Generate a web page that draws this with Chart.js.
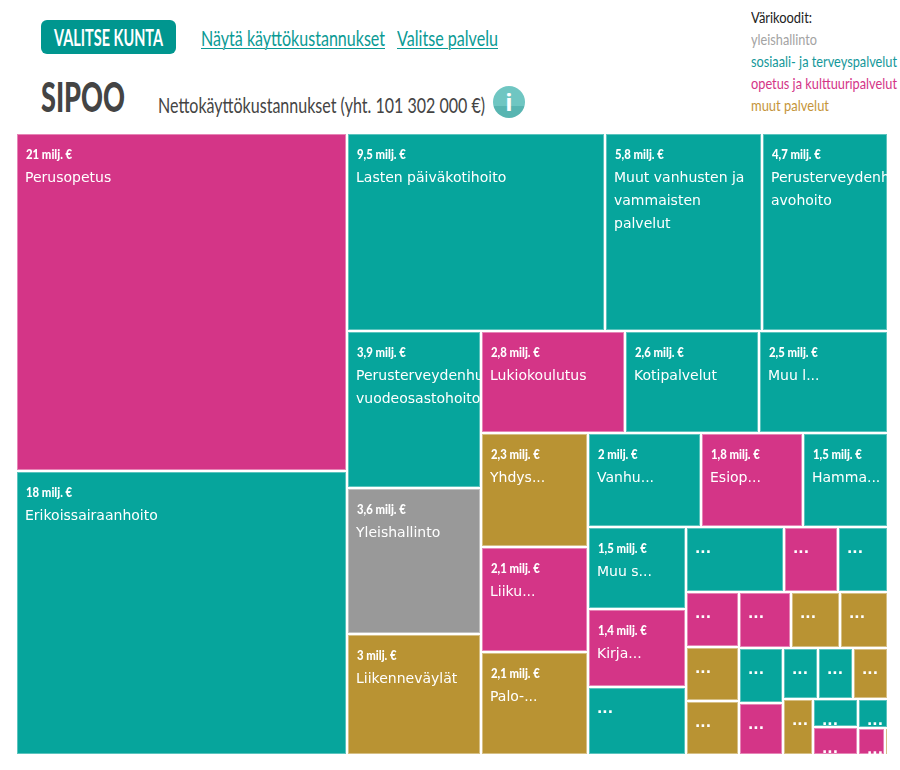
<!DOCTYPE html>
<html lang="fi">
<head>
<meta charset="utf-8">
<title>Sipoo</title>
<script src="https://cdn.jsdelivr.net/npm/chart.js@4"></script>
<style>
html,body{margin:0;padding:0;background:#fff;width:900px;height:770px;overflow:hidden}
body{position:relative;font-family:Lato,"Open Sans",sans-serif}
.t{position:absolute;white-space:nowrap;line-height:1;transform-origin:0 0}
#btnBg{position:absolute;left:41px;top:20px;width:135px;height:34px;background:#00968f;border-radius:6px}
#btn{left:54px;top:26px;color:#fff;font-weight:bold;font-size:23px}
.lnk{color:#0a9a94;font-size:22px;text-decoration:underline;text-underline-offset:2px;text-decoration-thickness:1px}
#city{left:41px;top:76px;font-size:41px;font-weight:900;color:#444}
#sub{left:158px;top:94px;font-size:21px;color:#444}
#info{position:absolute;top:86px;width:32px;height:32px;left:493px;border-radius:50%;background:linear-gradient(#6fc6c2 0 62%,#58b5b1 62%);color:#fff;font:bold 24px/32px "Open Sans",sans-serif;text-align:center}
#chartBox{position:absolute;left:17px;top:134px;width:872px;height:622px}
</style>
</head>
<body>
<div id="btnBg"></div>
<div class="t" id="btn" data-w="109">VALITSE KUNTA</div>
<div class="t lnk" style="left:201px;top:27px" data-w="184">Näytä käyttökustannukset</div>
<div class="t lnk" style="left:397px;top:27px" data-w="101">Valitse palvelu</div>
<div class="t" id="city" data-w="84">SIPOO</div>
<div class="t" id="sub" data-w="327">Nettokäyttökustannukset (yht. 101 302 000 €)</div>
<div id="info">i</div>
<div id="legend"></div>
<div id="chartBox"><canvas id="c" width="872" height="622"></canvas></div>
<script>
// Cost per service, million euro, largest first
const values = [20.8,17.5,9.5,5.75,4.65,3.9,3.6,3.0,2.75,2.55,2.45,2.26,2.1,2.04,1.99,1.77,1.49,1.5,1.43,1.25,
  1.18,0.66,0.6,0.54,0.53,0.53,0.54,0.505,0.5,0.44,0.42,0.33,0.33,0.33,0.31,0.235,0.235,0.165,0.135,0.015];
const valueLabels = ["21 milj. €","18 milj. €","9,5 milj. €","5,8 milj. €","4,7 milj. €","3,9 milj. €","3,6 milj. €","3 milj. €",
  "2,8 milj. €","2,6 milj. €","2,5 milj. €","2,3 milj. €","2,1 milj. €","2,1 milj. €","2 milj. €","1,8 milj. €","1,5 milj. €","1,5 milj. €","1,4 milj. €"];
const names = ["Perusopetus","Erikoissairaanhoito","Lasten päiväkotihoito","Muut vanhusten ja\nvammaisten\npalvelut","Perusterveydenhuollon\navohoito",
  "Perusterveydenhuollon\nvuodeosastohoito","Yleishallinto","Liikenneväylät","Lukiokoulutus","Kotipalvelut","Muu l...","Yhdys...","Liiku...","Palo-...",
  "Vanhu...","Esiop...","Hamma...","Muu s...","Kirja..."];
const groups = ["o","s","s","s","s","s","y","m","o","s","s","m","o","m","s","o","s","s","o","s",
  "s","o","s","o","m","m","o","m","m","s","o","s","s","m","m","s","o","s","o","m"];
const groupColors = {y:"#999999",s:"#06a59c",o:"#d43587",m:"#b99333"};
const groupEdges = {y:"#c0c0c0",s:"#5cc4be",o:"#e685b6",m:"#d6bf85"};
const legendTitle = "Värikoodit:";
const legendNames = ["yleishallinto","sosiaali- ja terveyspalvelut","opetus ja kulttuuripalvelut","muut palvelut"];
const legendWidths = [61,66,146,146,78];
const legendColors = ["#a3a3a3","#14989a","#d43587","#c5953a"];

const legendBox = document.getElementById("legend");
[legendTitle,...legendNames].forEach((s,i)=>{
  const d=document.createElement("div");d.className="t";d.textContent=s;d.dataset.w=legendWidths[i];
  d.style.cssText=`left:751px;top:${9+22*i}px;font-size:16px;color:${i?legendColors[i-1]:"#222"}`;
  legendBox.appendChild(d);
});
document.querySelectorAll("[data-w]").forEach(el=>{
  el.style.transform=`scaleX(${el.dataset.w/el.getBoundingClientRect().width})`;
});

// Squarified treemap layout in axis units
function squarify(vals,W,H){
  const total=vals.reduce((a,b)=>a+b,0), k=W*H/total, out=[];
  let x=0,y=0,w=W,h=H,i=0;
  const worst=(sum,mx,mn,s)=>{const a=sum*k;return Math.max(s*s*mx*k/(a*a),a*a/(s*s*mn*k));};
  while(i<vals.length){
    const s=Math.min(w,h);
    let j=i,sum=0,mx=0,mn=Infinity,best=Infinity;
    while(j<vals.length){
      const v=vals[j],nm=Math.max(mx,v),nn=Math.min(mn,v),r=worst(sum+v,nm,nn,s);
      if(r>best)break;
      best=r;sum+=v;mx=nm;mn=nn;j++;
    }
    if(w>=h){
      const cw=sum*k/h;let yy=y;
      for(let n=i;n<j;n++){const ch=vals[n]*k/cw;out.push({x0:x,x1:x+cw,y0:yy,y1:yy+ch});yy+=ch;}
      x+=cw;w-=cw;
    }else{
      const ch=sum*k/w;let xx=x;
      for(let n=i;n<j;n++){const cw=vals[n]*k/ch;out.push({x0:xx,x1:xx+cw,y0:y,y1:y+ch});xx+=cw;}
      y+=ch;h-=ch;
    }
    i=j;
  }
  return out;
}

const noSkip={top:false,left:false,bottom:false,right:false};
class TreemapController extends Chart.DatasetController{
  parse(){}
  update(mode){
    const meta=this._cachedMeta;
    this.updateElements(meta.data,0,meta.data.length,mode);
  }
  updateElements(rects,start,count,mode){
    const xs=this._cachedMeta.xScale, ys=this._cachedMeta.yScale;
    const cells=squarify(this.getDataset().data,xs.max-xs.min,ys.max-ys.min);
    this.cells=[];
    for(let i=start;i<start+count;i++){
      const c=cells[i];
      const l=Math.round(xs.getPixelForValue(c.x0)), r=Math.round(xs.getPixelForValue(c.x1))-2;
      const t=Math.round(ys.getPixelForValue(c.y0)), b=Math.round(ys.getPixelForValue(c.y1))-2;
      this.cells[i]={l,r,t,b};
      this.updateElement(rects[i],i,{x:(l+r)/2,y:t,base:b,width:r-l,height:b-t,horizontal:false,
        borderSkipped:noSkip,inflateAmount:0,
        options:this.resolveDataElementOptions(i,mode)},mode);
    }
  }
  draw(){
    super.draw();
    const ctx=this.chart.ctx;
    ctx.save();
    ctx.fillStyle="#fff";ctx.textBaseline="alphabetic";ctx.textAlign="left";
    this.cells.forEach((c,i)=>{
      ctx.save();
      ctx.beginPath();ctx.rect(c.l,c.t,c.r-c.l,c.b-c.t);ctx.clip();
      if(valueLabels[i]){
        ctx.save();
        ctx.translate(c.l+9,c.t+25);ctx.scale(0.81,1);
        ctx.font='900 14px Lato';
        ctx.fillText(valueLabels[i],0,0);
        ctx.restore();
        ctx.font='14px "DejaVu Sans"';
        (names[i]||"").split("\n").forEach((s,n)=>ctx.fillText(s,c.l+8,c.t+48+23*n));
      }else{
        ctx.font='bold 14px "DejaVu Sans"';
        ctx.fillText("...",c.l+8,c.t+25);
      }
      ctx.restore();
    });
    ctx.restore();
  }
}
TreemapController.id="treemap";
TreemapController.defaults={dataElementType:"bar"};
Chart.register(TreemapController);

new Chart(document.getElementById("c"),{
  type:"treemap",
  data:{labels:values.map((_,i)=>names[i]||"..."),datasets:[{
    data:values,
    backgroundColor:groups.map(g=>groupColors[g]),
    borderColor:groups.map(g=>groupEdges[g]),
    borderWidth:1
  }]},
  options:{
    responsive:false,animation:false,
    layout:{padding:0},
    scales:{
      x:{type:"linear",display:false,min:0,max:872},
      y:{type:"linear",display:false,min:0,max:622,reverse:true}
    },
    plugins:{legend:{display:false},tooltip:{enabled:false}},
    events:[]
  }
});
</script>
</body>
</html>
